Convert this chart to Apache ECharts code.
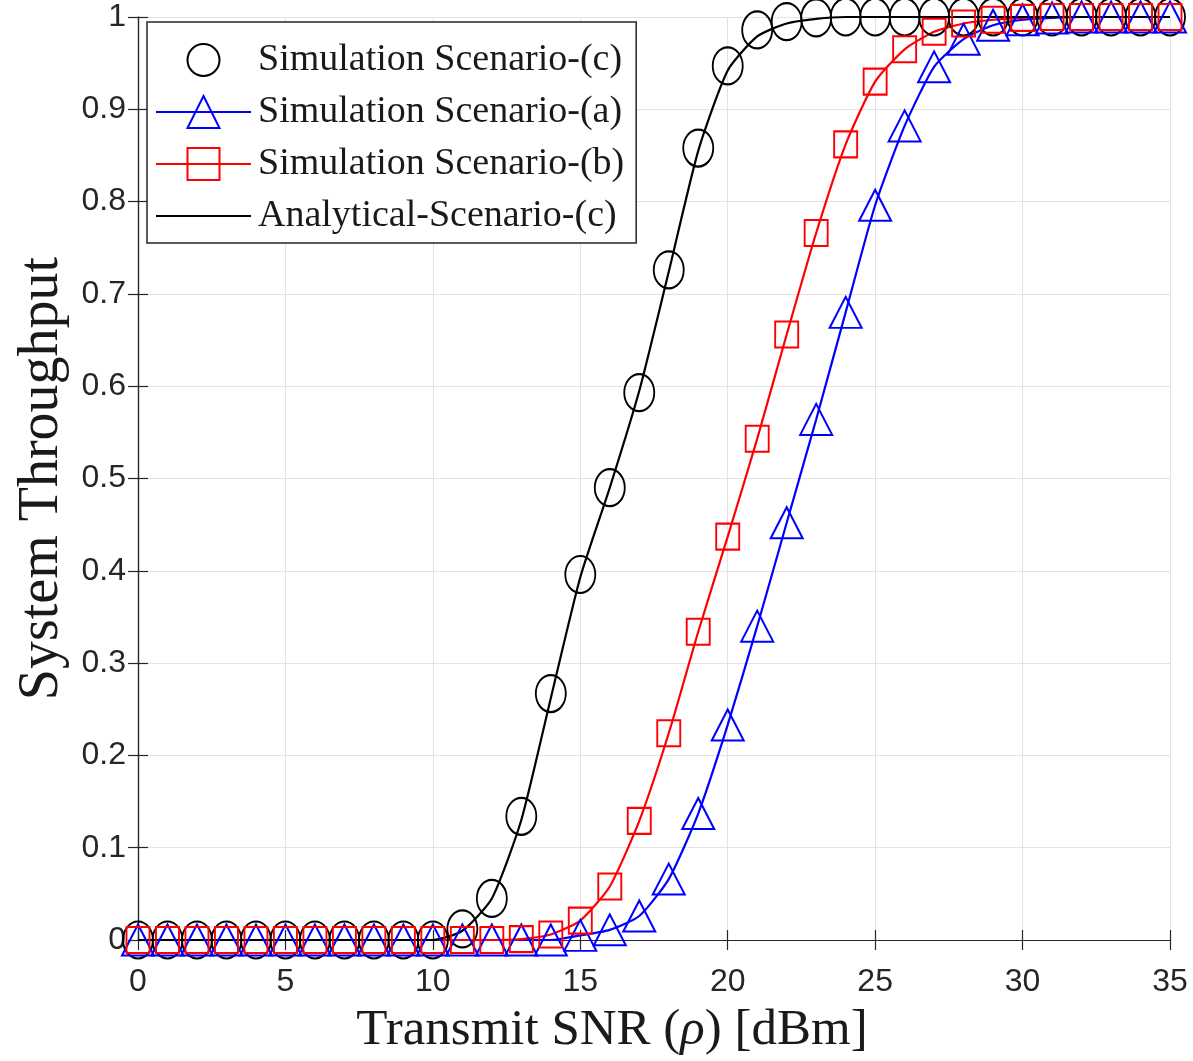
<!DOCTYPE html>
<html>
<head>
<meta charset="utf-8">
<script src="https://cdn.jsdelivr.net/npm/echarts@6/dist/echarts.min.js"></script>
<style>
  html, body { margin: 0; background: #fff; }
  #chart { width: 1193px; height: 1061px; }
</style>
</head>
<body>
<div id="chart"></div>
<script>
// transmit SNR in dBm
const snr = [0, 1, 2, 3, 4, 5, 6, 7, 8, 9, 10, 11, 12, 13, 14, 15, 16, 17,
  18, 19, 20, 21, 22, 23, 24, 25, 26, 27, 28, 29, 30, 31, 32, 33, 34, 35];

const simC = [0, 0, 0, 0, 0, 0, 0, 0, 0, 0, 0, 0.012, 0.045, 0.134, 0.267, 0.396, 0.49, 0.593,
  0.726, 0.858, 0.947, 0.986, 0.995, 0.999, 1, 1, 1, 1, 1, 1, 1, 1, 1, 1, 1, 1];
const simA = [0, 0, 0, 0, 0, 0, 0, 0, 0, 0, 0, 0, 0, 0, 0, 0.005, 0.011, 0.026,
  0.066, 0.137, 0.233, 0.34, 0.452, 0.564, 0.68, 0.796, 0.882, 0.946, 0.976, 0.991, 0.997, 0.999, 1, 1, 1, 1];
const simB = [0, 0, 0, 0, 0, 0, 0, 0, 0, 0, 0, 0, 0, 0.001, 0.006, 0.021, 0.058, 0.129,
  0.224, 0.334, 0.437, 0.543, 0.656, 0.766, 0.862, 0.93, 0.965, 0.984, 0.993, 0.997, 0.999, 1, 1, 1, 1, 1];
const anaC = [0, 0, 0, 0, 0, 0, 0, 0, 0, 0, 0, 0.01, 0.045, 0.13, 0.262, 0.393, 0.49, 0.595,
  0.724, 0.855, 0.942, 0.979, 0.993, 0.998, 1, 1, 1, 1, 1, 1, 1, 1, 1, 1, 1, 1];

const names = ['Simulation Scenario-(c)', 'Simulation Scenario-(a)',
  'Simulation Scenario-(b)', 'Analytical-Scenario-(c)'];

const pairs = (ys) => snr.map((x, i) => [x, ys[i]]);

const frame = '#262626';
const sans = 'Liberation Sans';
const serif = 'Liberation Serif';
const clear = 'rgba(0,0,0,0)';

const chart = echarts.init(document.getElementById('chart'));

const baseX = { type: 'value', min: 0, max: 35, interval: 5 };
const baseY = { type: 'value', min: 0, max: 1, interval: 0.1 };
const edge = {
  axisLine: { show: true, lineStyle: { color: frame, width: 1.2 } },
  axisTick: { show: true, inside: true, length: 10, lineStyle: { color: frame, width: 1.2 } },
};

chart.setOption({
  animation: false,
  backgroundColor: '#fff',
  grid: { left: 138, right: 23, top: 17, bottom: 119 },
  xAxis: [
    {
      ...baseX, ...edge, position: 'bottom',
      splitLine: { show: true, lineStyle: { color: '#e3e3e3', width: 1 } },
      axisLabel: { fontFamily: sans, fontSize: 32, color: frame, margin: 26 },
      name: 'Transmit SNR ({i|ρ}) [dBm]',
      nameLocation: 'middle',
      nameGap: 65,
      nameTextStyle: {
        fontFamily: serif, fontSize: 51, color: '#1a1a1a', padding: [0, 84, 0, 0],
        rich: { i: { fontFamily: serif, fontSize: 51, fontStyle: 'italic', color: '#1a1a1a' } },
      },
    },
    { ...baseX, ...edge, position: 'top', axisLabel: { show: false }, splitLine: { show: false } },
  ],
  yAxis: [
    {
      ...baseY, ...edge, position: 'left',
      splitLine: { show: true, lineStyle: { color: '#e3e3e3', width: 1 } },
      axisLabel: {
        fontFamily: sans, fontSize: 32, color: frame, margin: 12,
        formatter: (v) => (v === 0 || v === 1 ? String(v) : v.toFixed(1)),
      },
      name: 'System Throughput',
      nameLocation: 'middle',
      nameGap: 59,
      nameTextStyle: { fontFamily: serif, fontSize: 56, color: '#1a1a1a' },
    },
    { ...baseY, ...edge, position: 'right', axisLabel: { show: false }, splitLine: { show: false } },
  ],
  legend: {
    orient: 'vertical',
    left: 147,
    top: 22,
    itemWidth: 95,
    itemHeight: 40,
    itemGap: 14,
    padding: [19, 12, 8, 8],
    backgroundColor: '#fff',
    borderColor: frame,
    borderWidth: 1.5,
    data: names,
    textStyle: { fontFamily: serif, fontSize: 38, color: '#1a1a1a', padding: [0, 0, 0, 2] },
  },
  series: [
    {
      name: names[0], type: 'line', data: pairs(simC), clip: false,
      symbol: 'circle', symbolSize: [30, 37],
      itemStyle: { color: clear, borderColor: '#000', borderWidth: 2 },
      lineStyle: { width: 0, opacity: 0 },
    },
    {
      name: names[1], type: 'line', data: pairs(simA), clip: false,
      smooth: 0.2,
      symbol: 'triangle', symbolSize: [32, 31],
      itemStyle: { color: clear, borderColor: '#0000ff', borderWidth: 2 },
      lineStyle: { color: '#0000ff', width: 2.2 },
    },
    {
      name: names[2], type: 'line', data: pairs(simB), clip: false,
      smooth: 0.2,
      symbol: 'rect', symbolSize: [23, 26],
      itemStyle: { color: clear, borderColor: '#ff0000', borderWidth: 2 },
      lineStyle: { color: '#ff0000', width: 2.2 },
    },
    {
      name: names[3], type: 'line', data: pairs(anaC), clip: false,
      smooth: 0.2,
      symbol: 'none',
      itemStyle: { color: clear, borderWidth: 0 },
      lineStyle: { color: '#000', width: 2.2 },
    },
  ],
});
</script>
</body>
</html>
